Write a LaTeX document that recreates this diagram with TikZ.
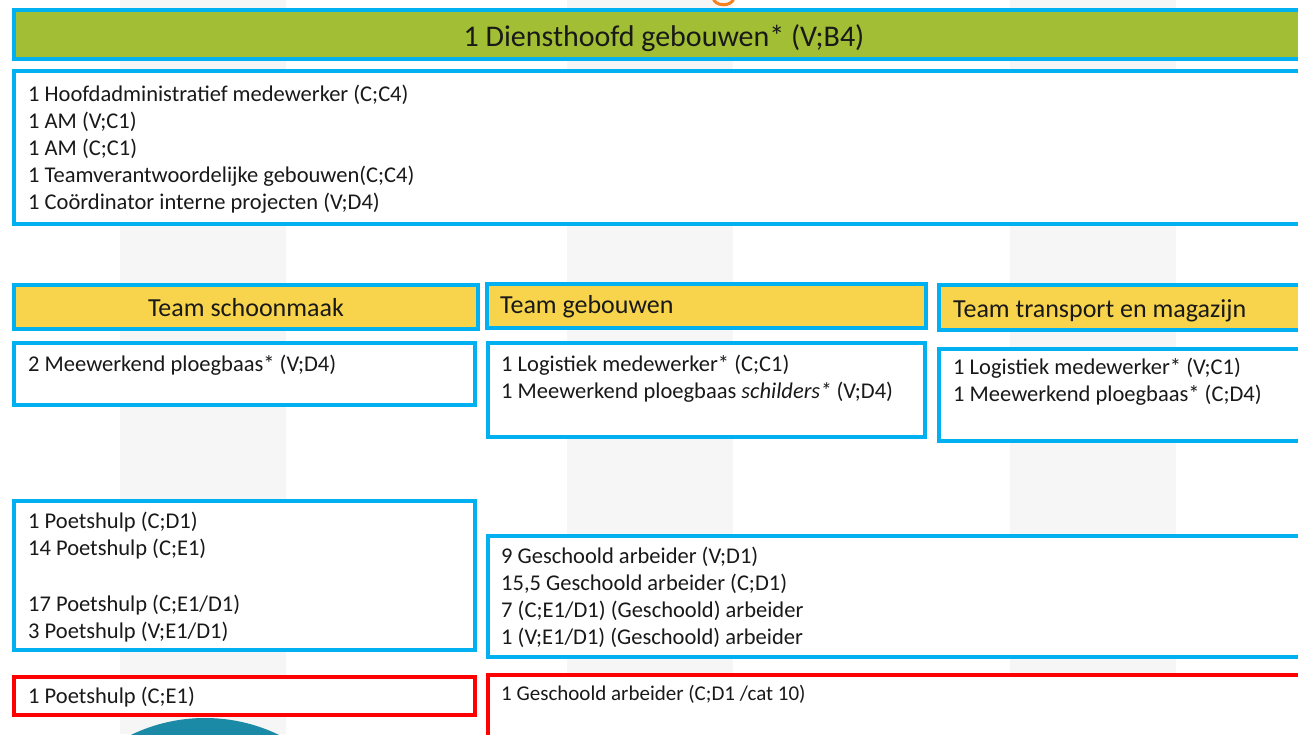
\documentclass[tikz,border=0pt]{standalone}
\usepackage{fontspec}
\setmainfont{Carlito}
\definecolor{obblue}{HTML}{00B0F0}
\definecolor{obgreen}{HTML}{A1BE34}
\definecolor{obyellow}{HTML}{F7D44C}
\definecolor{obred}{HTML}{FF0000}
\definecolor{obstripe}{HTML}{F6F6F6}
\definecolor{obteal}{HTML}{1B8AA6}
\definecolor{oborange}{HTML}{F58220}
\tikzset{
  boxbase/.style={rectangle, anchor=north west, inner sep=0pt, outer sep=0pt, line width=4pt},
  bluebox/.style={boxbase, draw=obblue, fill=white},
  greenbox/.style={boxbase, draw=obblue, fill=obgreen},
  yellowbox/.style={boxbase, draw=obblue, fill=obyellow},
  redbox/.style={boxbase, draw=obred, fill=white},
  bodytext/.style={anchor=base west, inner sep=0pt, font=\fontsize{22.5}{27}\selectfont, text=black!90},
  smalltext/.style={anchor=base west, inner sep=0pt, font=\fontsize{21}{25}\selectfont, text=black!90},
  teamtext/.style={anchor=base west, inner sep=0pt, font=\fontsize{26}{31}\selectfont, text=black!90},
  headtext/.style={anchor=base, inner sep=0pt, font=\fontsize{30}{36}\selectfont, text=black!90}
}
\begin{document}
\begin{tikzpicture}[x=1pt,y=-1pt]
\useasboundingbox (0,0) rectangle (1298,734);
\clip (0,0) rectangle (1298,734);
\fill[white] (0,0) rectangle (1298,734);
% background stripes
\fill[obstripe] (120,0) rectangle (286,734);
\fill[obstripe] (567,0) rectangle (733,734);
\fill[obstripe] (1010,0) rectangle (1176,734);
% orange remnant of title
\draw[oborange, line width=3pt] (713,-2) .. controls (715,7) and (732,7) .. (734,-2);
% teal circle
\fill[obteal] (205,888) circle (170);
% boxes
\node[greenbox, minimum width=1296pt, minimum height=49pt] (head) at (14,10) {};
\node[bluebox, minimum width=1296pt, minimum height=153pt] (admin) at (14,71) {};
\node[yellowbox, minimum width=464pt, minimum height=44pt] (tsch) at (14,285) {};
\node[yellowbox, minimum width=439pt, minimum height=44pt] (tgeb) at (487,284) {};
\node[yellowbox, minimum width=371pt, minimum height=45pt] (ttra) at (939,285) {};
\node[bluebox, minimum width=461pt, minimum height=62pt] (bsch) at (14,343) {};
\node[bluebox, minimum width=437pt, minimum height=94pt] (bgeb) at (488,343) {};
\node[bluebox, minimum width=371pt, minimum height=92pt] (btra) at (939,349) {};
\node[bluebox, minimum width=461pt, minimum height=149pt] (bpoets) at (14,501) {};
\node[bluebox, minimum width=822pt, minimum height=121pt] (bgesch) at (488,536) {};
\node[redbox, minimum width=461pt, minimum height=38pt] (rpoets) at (14,677) {};
\node[redbox, minimum width=822pt, minimum height=80pt] (rgesch) at (488,675) {};
% texts
\node[headtext] (headt) at (664,46) {1 Diensthoofd gebouwen* (V;B4)};
\node[bodytext] (a1) at (28,101) {1 Hoofdadministratief medewerker (C;C4)};
\node[bodytext] (a2) at (28,128) {1 AM (V;C1)};
\node[bodytext] (a3) at (28,155) {1 AM (C;C1)};
\node[bodytext] (a4) at (28,182) {1 Teamverantwoordelijke gebouwen(C;C4)};
\node[bodytext] (a5) at (28,209) {1 Coördinator interne projecten (V;D4)};
\node[teamtext, anchor=base] (tscht) at (246,316) {Team schoonmaak};
\node[teamtext] (tgebt) at (500,313) {Team gebouwen};
\node[teamtext] (ttrat) at (953,317) {Team transport en magazijn};
\node[bodytext] (s1) at (28,371) {2 Meewerkend ploegbaas* (V;D4)};
\node[bodytext] (g1) at (501,371) {1 Logistiek medewerker* (C;C1)};
\node[bodytext] (g2) at (501,398) {1 Meewerkend ploegbaas \textit{schilders*} (V;D4)};
\node[bodytext] (r1) at (953,374) {1 Logistiek medewerker* (V;C1)};
\node[bodytext] (r2) at (953,401) {1 Meewerkend ploegbaas* (C;D4)};
\node[bodytext] (p1) at (28,528) {1 Poetshulp (C;D1)};
\node[bodytext] (p2) at (28,555) {14 Poetshulp (C;E1)};
\node[bodytext] (p3) at (28,611) {17 Poetshulp (C;E1/D1)};
\node[bodytext] (p4) at (28,638) {3 Poetshulp (V;E1/D1)};
\node[bodytext] (q1) at (501,563) {9 Geschoold arbeider (V;D1)};
\node[bodytext] (q2) at (501,590) {15,5 Geschoold arbeider (C;D1)};
\node[bodytext] (q3) at (501,617) {7 (C;E1/D1) (Geschoold) arbeider};
\node[bodytext] (q4) at (501,644) {1 (V;E1/D1) (Geschoold) arbeider};
\node[bodytext] (x1) at (28,703) {1 Poetshulp (C;E1)};
\node[smalltext] (x2) at (501,700) {1 Geschoold arbeider (C;D1 /cat 10)};
\end{tikzpicture}
\end{document}
